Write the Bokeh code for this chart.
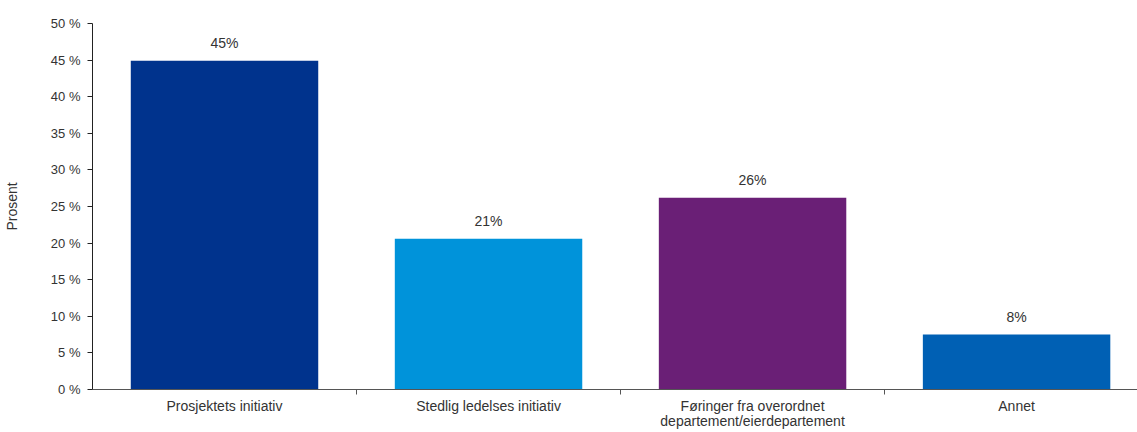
from bokeh.plotting import figure
from bokeh.models import ColumnDataSource, Range1d, FixedTicker, LabelSet
from bokeh.core.properties import value
from bokeh.embed import file_html
from bokeh.resources import INLINE

# Andel svar per kategori (prosent)
categories = [
    "Prosjektets initiativ",
    "Stedlig ledelses initiativ",
    "Føringer fra overordnet\ndepartement/eierdepartement",
    "Annet",
]
values = [44.9, 20.6, 26.2, 7.5]
colors = ["#00338D", "#0093DA", "#6A1F76", "#0060B4"]
y_ticks = [0, 5, 10, 15, 20, 25, 30, 35, 40, 45, 50]

xs = [i + 0.5 for i in range(len(categories))]
src = ColumnDataSource(dict(
    x=xs,
    top=values,
    color=colors,
    label=[f"{int(v + 0.5)}%" for v in values],
))

FONT = "Liberation Sans"
TXT = "#333333"

p = figure(
    width=1137, height=432,
    output_backend="svg", toolbar_location=None,
    x_range=Range1d(0, 3.958), y_range=Range1d(0, 50),
    min_border_left=92, min_border_right=0,
    min_border_top=23, min_border_bottom=43,
)
p.outline_line_color = None
p.xgrid.visible = False
p.ygrid.visible = False

p.vbar(x="x", top="top", width=0.71, color="color", source=src, line_color=None)

labels = LabelSet(
    x="x", y="top", text="label", source=src,
    text_align="center", text_baseline="bottom", y_offset=10,
    text_font=value(FONT), text_font_size="14px", text_color=TXT,
)
p.add_layout(labels)

# y-axis
p.yaxis.ticker = FixedTicker(ticks=y_ticks)
p.yaxis.major_label_overrides = {t: f"{t} %" for t in y_ticks}
p.yaxis.axis_label = "Prosent"
p.yaxis.axis_label_text_font = FONT
p.yaxis.axis_label_text_font_style = "normal"
p.yaxis.axis_label_text_font_size = "14px"
p.yaxis.axis_label_text_color = TXT
p.yaxis.axis_label_standoff = 28
p.yaxis.major_label_text_font = FONT
p.yaxis.major_label_text_font_size = "13px"
p.yaxis.major_label_text_color = TXT
p.yaxis.major_label_standoff = 7
p.yaxis.axis_line_color = "#222222"
p.yaxis.major_tick_line_color = "#222222"
p.yaxis.major_tick_out = 5
p.yaxis.major_tick_in = 0
p.yaxis.minor_tick_line_color = None

# x-axis: labels at bar centres, tick marks at category boundaries
p.xaxis.ticker = FixedTicker(ticks=xs, minor_ticks=[1, 2, 3])
p.xaxis.major_label_overrides = {x: c for x, c in zip(xs, categories)}
p.xaxis.major_label_text_font = FONT
p.xaxis.major_label_text_font_size = "14px"
p.xaxis.major_label_text_color = TXT
p.xaxis.major_label_text_line_height = 0.95
p.xaxis.major_label_standoff = 2
p.xaxis.major_tick_line_color = None
p.xaxis.minor_tick_line_color = "#555555"
p.xaxis.minor_tick_out = 5
p.xaxis.minor_tick_in = 0
p.xaxis.axis_line_color = "#555555"

open("out.html", "w").write(file_html(p, INLINE))
